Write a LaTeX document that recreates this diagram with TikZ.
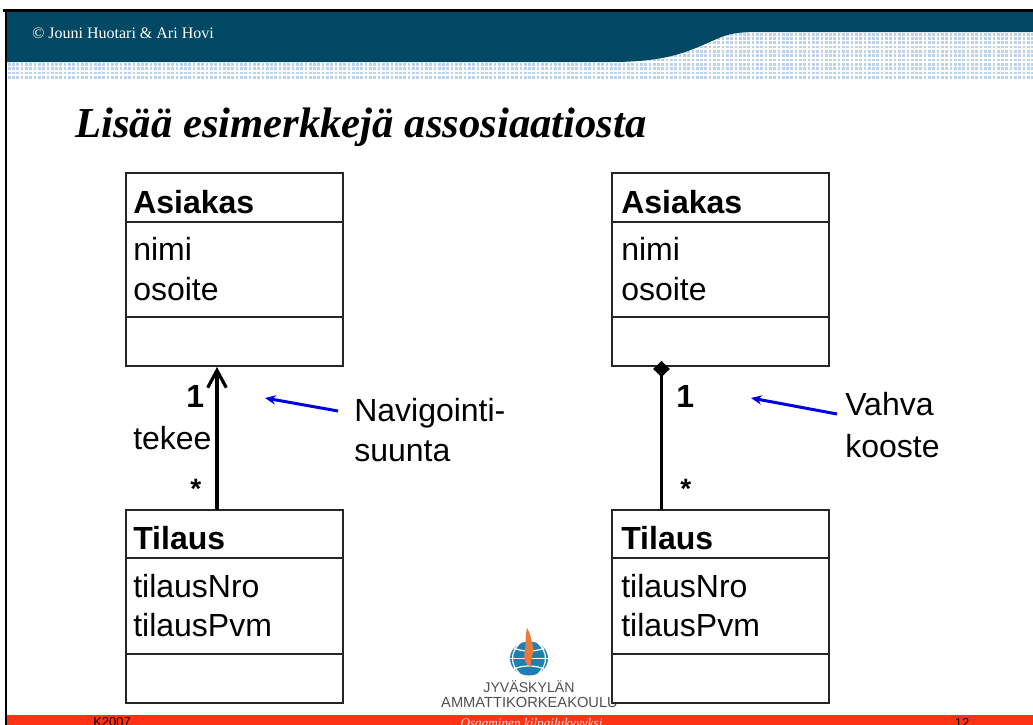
\documentclass[tikz,border=0pt]{standalone}
\usepackage{fontspec}
\setmainfont{Liberation Sans}
\newfontfamily\serifface{Liberation Serif}
\usetikzlibrary{arrows.meta}
\definecolor{teal}{HTML}{004864}
\definecolor{dotblue}{HTML}{BBD2EA}
\definecolor{barred}{HTML}{FF3314}
\definecolor{logoblue}{HTML}{1F7FB0}
\definecolor{logoorange}{HTML}{E87A3C}
\definecolor{logogray}{HTML}{505050}
\tikzset{
  x=0.75pt,y=-0.75pt,
  boxpart/.style={draw=black!85,line width=1.5pt*0.75,fill=white,minimum width=217*0.75pt,anchor=north west,inner sep=0pt,outer sep=0pt},
  uml/.style={anchor=base west,inner sep=0pt,font=\fontsize{24}{28}\selectfont},
  umlbold/.style={uml,font=\fontsize{24}{28}\selectfont\bfseries},
  mult/.style={uml,font=\fontsize{21}{24}\selectfont\bfseries},
  link/.style={line width=3.6pt*0.75,black},
  note/.style={line width=3pt*0.75,draw=blue!90!black,-{Stealth[length=8pt,width=7pt]}},
  foot/.style={anchor=base,inner sep=0pt,font=\fontsize{9.7}{12}\selectfont},
}
\begin{document}
\begin{tikzpicture}
\useasboundingbox (0,0) rectangle (1033,725);
\begin{scope}
\clip (0,0) rectangle (1033,725);
\fill[white] (0,0) rectangle (1033,725);
% dotted band
\fill[dotblue] (7,30) rectangle (1033,80);
\foreach \i in {0,...,240} {\draw[white,line width=1.2pt] ({7+\i*4.3},30) -- ({7+\i*4.3},80);}
\foreach \i in {0,...,11} {\draw[white,line width=1.2pt] (7,{32+\i*4.3}) -- (1033,{32+\i*4.3});}
\fill[white] (7,80) rectangle (1033,82);
% banner
\fill[teal] (7,12) -- (1033,12) -- (1033,32) -- (765,32) .. controls (735,32) and (730,33) .. (712,41) .. controls (685,53) and (665,62) .. (610,62) -- (7,62) -- cycle;
% frame
\fill[black] (3,9) rectangle (1033,12);
\fill[black] (5,9) rectangle (7,725);
% footer
\fill[barred] (7,715) rectangle (1033,725);
\node[foot] (k) at (112,726) {K2007};
\node[foot,text=red!15!white,font=\serifface\itshape\fontsize{9.9}{12}\selectfont] (slogan) at (531.5,727) {Osaaminen kilpailukyvyksi};
\node[foot] (page) at (962,727) {12};
% logo
\fill[logoblue] (529,658.5) ellipse (19 and 17);
\draw[white,line width=0.9pt] (510,658.5) -- (548,658.5);
\draw[white,line width=0.9pt] (514,648) .. controls (522,652) and (536,652) .. (544,648);
\draw[white,line width=0.9pt] (514,669) .. controls (522,665) and (536,665) .. (544,669);
\draw[white,line width=0.9pt] (520,643) .. controls (510,652) and (510,665) .. (520,674);
\draw[white,line width=0.9pt] (538,643) .. controls (548,652) and (548,665) .. (538,674);
\fill[logoorange] (527,628) .. controls (531,634) and (531,640) .. (533,646) .. controls (535,654) and (529,660) .. (531,667) .. controls (525,665) and (523,658) .. (525,650) .. controls (526,642) and (525,635) .. (527,628) -- cycle;
\node[anchor=base,inner sep=0pt,text=logogray,font=\fontsize{10.6}{12}\selectfont] (logoa) at (529,692) {JYVÄSKYLÄN};
\node[anchor=base,inner sep=0pt,text=logogray,font=\fontsize{11}{12}\selectfont] (logob) at (529.5,707) {AMMATTIKORKEAKOULU};
\end{scope}
% header texts
\node[anchor=base west,inner sep=0pt,text=white,font=\serifface\fontsize{12}{14}\selectfont] (copy) at (32,38) {© Jouni Huotari \& Ari Hovi};
\node[anchor=base west,inner sep=0pt,font=\serifface\bfseries\itshape\fontsize{32}{36}\selectfont] (title) at (75,137) {Lisää esimerkkejä assosiaatiosta};
% classes
\foreach \nm/\xx/\tx in {L/126/133,R/612/621} {
  \node[boxpart,minimum height=49*0.75pt] (a\nm) at (\xx,173) {};
  \node[boxpart,minimum height=95*0.75pt] (b\nm) at (\xx,222) {};
  \node[boxpart,minimum height=49*0.75pt] (c\nm) at (\xx,317) {};
  \node[boxpart,minimum height=48*0.75pt] (d\nm) at (\xx,510) {};
  \node[boxpart,minimum height=96*0.75pt] (e\nm) at (\xx,558) {};
  \node[boxpart,minimum height=49*0.75pt] (f\nm) at (\xx,654) {};
  \node[umlbold] (an\nm) at (\tx,213) {Asiakas};
  \node[uml] (ni\nm) at (\tx,260) {nimi};
  \node[uml] (os\nm) at (\tx,300) {osoite};
  \node[umlbold] (ti\nm) at (\tx,549) {Tilaus};
  \node[uml] (tn\nm) at (\tx,597) {tilausNro};
  \node[uml] (tp\nm) at (\tx,636) {tilausPvm};
}
% connectors
\coordinate (lo) at (217,510);
\coordinate (lu) at (217,367);
\coordinate (ro) at (661.5,510);
\coordinate (ru) at (661.5,361);
\draw[link,-{Straight Barb[length=13pt,width=14pt,line width=2.4pt]}] (lo) -- (lu);
\draw[link,-{Diamond[length=12pt,width=12.5pt]}] (ro) -- (ru);
% multiplicities
\node[uml,font=\fontsize{24}{28}\selectfont\bfseries] (m1) at (186,407) {1};
\node[uml] (assoc) at (133,449) {tekee};
\node[mult] (m2) at (190,498) {*};
\node[uml,font=\fontsize{24}{28}\selectfont\bfseries] (m3) at (676,407) {1};
\node[mult] (m4) at (680,498) {*};
% notes
\node[uml] (nava) at (354,421) {Navigointi-};
\node[uml] (navb) at (354,461) {suunta};
\node[uml] (vaa) at (845,415) {Vahva};
\node[uml] (vab) at (845,457) {kooste};
\coordinate (na) at (338,411);
\coordinate (nb) at (265,398);
\coordinate (va) at (837,414);
\coordinate (vb) at (751,398);
\draw[note] (na) -- (nb);
\draw[note] (va) -- (vb);
\end{tikzpicture}
\end{document}
